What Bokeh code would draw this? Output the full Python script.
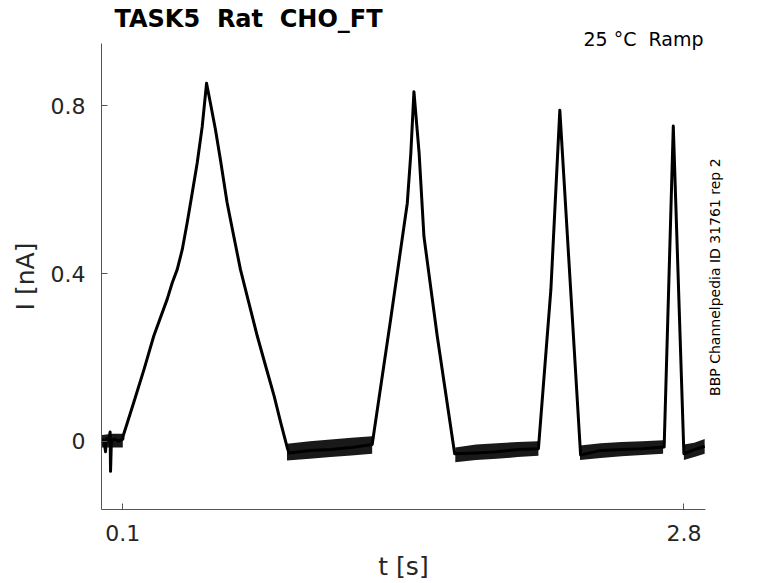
import math
from bokeh.plotting import figure
from bokeh.models import Range1d, FixedTicker, Title, LinearAxis
from bokeh.embed import file_html
from bokeh.resources import INLINE

# ---- data (time in s, current in nA) ----
trace_t = [0.0, 0.01, 0.017, 0.02, 0.03, 0.039, 0.041, 0.045, 0.06, 0.08, 0.1,
           0.102, 0.153, 0.2025, 0.249, 0.3137, 0.338, 0.362, 0.386, 0.41,
           0.434, 0.458, 0.482, 0.503,
           0.522, 0.546, 0.570, 0.602, 0.634, 0.666, 0.706, 0.747, 0.787,
           0.828, 0.859, 0.891,
           0.9, 1.0, 1.1, 1.2, 1.3,
           1.389, 1.428, 1.469, 1.486, 1.501, 1.526, 1.549, 1.613, 1.697,
           1.8, 1.9, 2.0, 2.1,
           2.16, 2.203, 2.303,
           2.4, 2.5, 2.6, 2.705,
           2.749, 2.80,
           2.85, 2.9]
trace_i = [0.005, 0.0, -0.025, 0.005, 0.0, 0.022, -0.072, 0.0, 0.005, 0.0, 0.005,
           0.013, 0.093, 0.172, 0.251, 0.339, 0.378, 0.41, 0.457, 0.522,
           0.592, 0.664, 0.75, 0.854,
           0.806, 0.743, 0.671, 0.569, 0.489, 0.41, 0.331, 0.251, 0.18,
           0.108, 0.046, -0.015,
           -0.028, -0.022, -0.02, -0.015, -0.008,
           0.291, 0.426, 0.568, 0.687, 0.834, 0.687, 0.489, 0.251, -0.03,
           -0.028, -0.025, -0.02, -0.018,
           0.362, 0.79, -0.033,
           -0.022, -0.02, -0.018, -0.014,
           0.752, -0.03,
           -0.02, -0.012]

# noise envelope of the overlaid sweeps on the holding segments
band_t = [[0.0, 0.05, 0.1],
          [0.89, 1.0, 1.1, 1.2, 1.3],
          [1.70, 1.8, 1.9, 2.0, 2.1],
          [2.30, 2.4, 2.5, 2.6, 2.7],
          [2.80, 2.85, 2.9]]
band_lo = [[-0.015, -0.015, -0.015],
           [-0.046, -0.042, -0.038, -0.034, -0.03],
           [-0.05, -0.045, -0.042, -0.038, -0.035],
           [-0.045, -0.04, -0.036, -0.033, -0.03],
           [-0.045, -0.038, -0.03]]
band_hi = [[0.015, 0.018, 0.018],
           [-0.006, 0.0, 0.004, 0.008, 0.012],
           [-0.015, -0.008, -0.005, -0.002, 0.0],
           [-0.01, -0.005, -0.002, 0.0, 0.002],
           [-0.008, -0.004, 0.005]]

x_ticks = [0.1, 2.8]
x_tick_labels = {0.1: "0.1", 2.8: "2.8"}
y_ticks = [0, 0.4, 0.8]
y_tick_labels = {0: "0", 0.4: "0.4", 0.8: "0.8"}

title_text = "TASK5\u00a0 Rat\u00a0 CHO_FT"
condition_text = "25 °C\u00a0 Ramp"
source_text = "BBP Channelpedia ID 31761 rep 2"
source_anchor = 0.108   # current level where the rotated source note starts

FONT = "DejaVu Sans"
AX = "#555555"
TXT = "#262626"

p = figure(width=778, height=583, output_backend="svg", toolbar_location=None,
           x_range=Range1d(-0.0025, 2.904), y_range=Range1d(-0.163, 0.949),
           min_border_left=101, min_border_right=73, min_border_top=43,
           min_border_bottom=72, title=None)
p.background_fill_color = "white"
p.border_fill_color = "white"
p.outline_line_color = None
p.grid.visible = False

# condition text (closest to frame), then main title above it
p.add_layout(Title(text=condition_text, align="right", offset=2,
                   text_font=FONT, text_font_size="19px", text_font_style="normal",
                   text_color="black", standoff=-12), "above")
p.add_layout(Title(text=title_text, align="left", offset=13,
                   text_font=FONT, text_font_size="24px", text_font_style="bold",
                   text_color="black", standoff=-2), "above")

for ax in (p.xaxis[0], p.yaxis[0]):
    ax.axis_line_color = AX
    ax.major_tick_line_color = AX
    ax.major_tick_in = 6
    ax.major_tick_out = 0
    ax.minor_tick_line_color = None
    ax.major_label_text_font = FONT
    ax.major_label_text_font_size = "22px"
    ax.major_label_text_color = TXT
    ax.axis_label_text_font = FONT
    ax.axis_label_text_font_size = "25px"
    ax.axis_label_text_font_style = "normal"
    ax.axis_label_text_color = TXT

p.xaxis.ticker = FixedTicker(ticks=x_ticks)
p.xaxis.major_label_overrides = x_tick_labels
p.xaxis.major_label_standoff = 15
p.xaxis.axis_label = "t [s]"
p.xaxis.axis_label_standoff = 8

p.yaxis.ticker = FixedTicker(ticks=y_ticks)
p.yaxis.major_label_overrides = y_tick_labels
p.yaxis.major_label_standoff = 16
p.yaxis.axis_label = "I [nA]"
p.yaxis.axis_label_standoff = 8

# right-hand source note, drawn as the single rotated label of a bare right axis
src_axis = LinearAxis(ticker=FixedTicker(ticks=[source_anchor]),
                      major_label_overrides={source_anchor: source_text},
                      major_label_orientation=math.pi / 2,
                      axis_line_color=None, major_tick_line_color=None,
                      minor_tick_line_color=None, major_label_standoff=10,
                      major_tick_out=0, major_tick_in=0,
                      major_label_text_font=FONT, major_label_text_font_size="14px",
                      major_label_text_color="black")
p.add_layout(src_axis, "right")

for bt, lo, hi in zip(band_t, band_lo, band_hi):
    p.varea(x=bt, y1=lo, y2=hi, fill_color="black", fill_alpha=0.9)

p.line(trace_t, trace_i, line_color="black", line_width=3, line_join="round")

open("out.html", "w").write(file_html(p, INLINE))
